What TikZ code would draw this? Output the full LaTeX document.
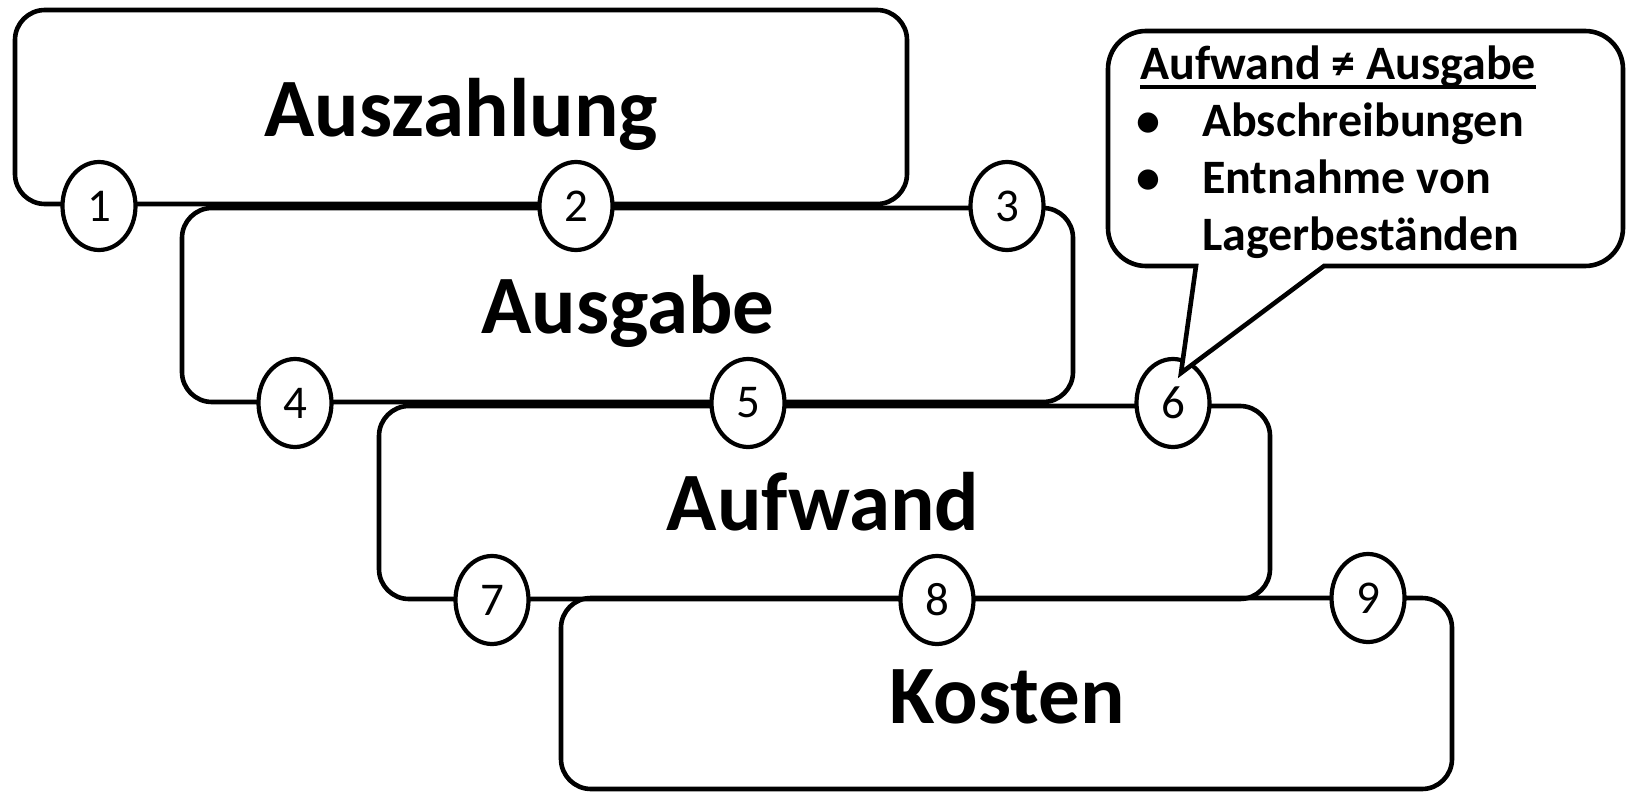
\documentclass[tikz,border=0pt]{standalone}
\usepackage{fontspec}
\setmainfont{Carlito}
\usetikzlibrary{shapes.geometric}
\begin{document}
\begin{tikzpicture}[x=1pt,y=-1pt,
  boxline/.style={line width=4.6pt, rounded corners=30pt},
  numcirc/.style={draw, line width=4.2pt, ellipse, fill=white, inner sep=0pt,
     minimum width=73pt, minimum height=88pt, font=\fontsize{47}{50}\selectfont},
  bigtext/.style={inner sep=0pt, anchor=base, font=\fontsize{83}{90}\selectfont\bfseries},
  calltext/.style={inner sep=0pt, anchor=base west, font=\fontsize{48}{57}\selectfont\bfseries},
  bullettext/.style={inner sep=0pt, anchor=base, font=\fontsize{48}{57}\selectfont\bfseries}]
\useasboundingbox (0,0) rectangle (1626,792);
% boxes
\draw[boxline] (15,10) rectangle (907,204);
\draw[boxline] (182,208) rectangle (1073,402);
\draw[boxline] (379,406) rectangle (1270,599);
\draw[boxline] (561,598) rectangle (1452,789);
% box labels
\node[bigtext] (t1) at (461,136) {Auszahlung};
\node[bigtext] (t2) at (628,333) {Ausgabe};
\node[bigtext] (t3) at (823,530) {Aufwand};
\node[bigtext] (t4) at (1007,723) {Kosten};
% numbered circles
\node[numcirc] (c1) at (99,206) {1};
\node[numcirc] (c2) at (576,206) {2};
\node[numcirc] (c3) at (1007,206) {3};
\node[numcirc] (c4) at (295,403) {4};
\node[numcirc] (c5) at (748,403) {5};
\node[numcirc] (c6) at (1173,403) {6};
\node[numcirc] (c7) at (492,600) {7};
\node[numcirc] (c8) at (937,600) {8};
\node[numcirc] (c9) at (1368,598) {9};
% callout
\coordinate (tip) at (1181,373);
\draw[line width=4.6pt, fill=white, line join=miter]
  (tip) -- (1196,266) -- (1146,266) .. controls (1125,266) and (1108,249) .. (1108,228)
  -- (1108,69) .. controls (1108,48) and (1125,31) .. (1146,31)
  -- (1585,31) .. controls (1606,31) and (1623,48) .. (1623,69)
  -- (1623,228) .. controls (1623,249) and (1606,266) .. (1585,266)
  -- (1324,266) -- cycle;
\node[calltext] (title) at (1140,80) {Aufwand ≠ Ausgabe};
\draw[line width=3.5pt] ([yshift=-7pt]title.base west) -- ([yshift=-7pt]title.base east);
\node[bullettext] (b1) at (1148,136) {•};
\node[calltext] (l1) at (1202,136) {Abschreibungen};
\node[bullettext] (b2) at (1148,193) {•};
\node[calltext] (l2) at (1202,193) {Entnahme von};
\node[calltext] (l3) at (1202,250) {Lagerbeständen};
\end{tikzpicture}
\end{document}
